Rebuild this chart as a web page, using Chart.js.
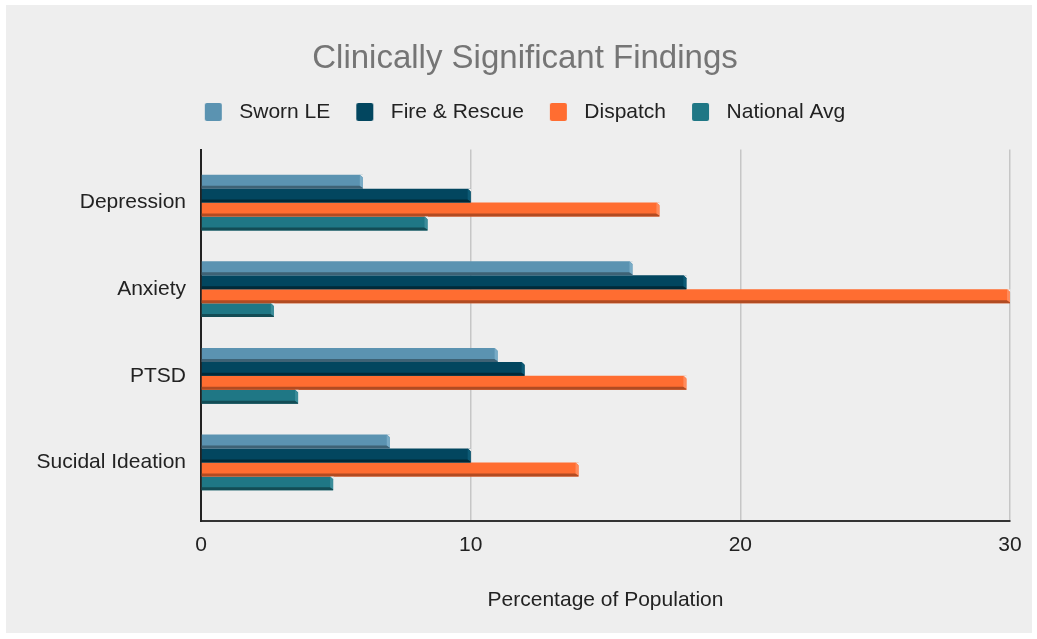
<!DOCTYPE html>
<html>
<head>
<meta charset="utf-8">
<script src="https://cdn.jsdelivr.net/npm/chart.js@4/dist/chart.umd.min.js"></script>
<style>
  html, body { margin: 0; padding: 0; background: #ffffff; }
  canvas { display: block; }
</style>
</head>
<body>
<canvas id="chart" width="1037" height="639"></canvas>
<script>
// Survey results: share of each group with clinically significant findings (%)
const categories = ['Depression', 'Anxiety', 'PTSD', 'Sucidal Ideation'];
const seriesNames = ['Sworn LE', 'Fire & Rescue', 'Dispatch', 'National Avg'];
const swornLE     = [6, 16, 11, 7];
const fireRescue  = [10, 18, 12, 10];
const dispatch    = [17, 30, 18, 14];
const nationalAvg = [8.4, 2.7, 3.6, 4.9];
const xTicks = [0, 10, 20, 30];

// face / bottom edge / end cap shades for each series
const faceColors = ['#5b93b1', '#02465f', '#ff6d31', '#1f7785'];
const edgeColors = ['#3e6275', '#012a39', '#b14b22', '#134c55'];
const capColors  = ['#78abc6', '#0c5a75', '#ff8b5b', '#3b8c99'];

const BG = '#eeeeee';
const FONT = "'Liberation Sans', Arial, sans-serif";
const TEXT_SIZE = 21;

// legend swatch: square drawn in the left part of a wider image so the text sits further right
function makeSwatch(color) {
  const c = document.createElement('canvas');
  c.width = 30; c.height = 18;
  const g = c.getContext('2d');
  g.fillStyle = color;
  g.beginPath();
  g.roundRect(3, 0, 17, 18, 2);
  g.fill();
  return c;
}
const swatches = faceColors.map(makeSwatch);

// white frame around the grey chart panel
const framePlugin = {
  id: 'frame',
  beforeDraw(chart) {
    const ctx = chart.ctx;
    ctx.save();
    ctx.fillStyle = '#ffffff';
    ctx.fillRect(0, 0, chart.width, chart.height);
    ctx.fillStyle = BG;
    ctx.fillRect(6, 5, chart.width - 11, chart.height - 11);
    ctx.restore();
  }
};

// shaded bottom edge and bevelled end cap on every bar
const bevelPlugin = {
  id: 'bevel',
  afterDatasetsDraw(chart) {
    const ctx = chart.ctx;
    ctx.save();
    chart.data.datasets.forEach((ds, di) => {
      const meta = chart.getDatasetMeta(di);
      if (meta.hidden) return;
      meta.data.forEach(bar => {
        const p = bar.getProps(['x', 'y', 'base', 'height'], true);
        const top = p.y - p.height / 2;
        const bottom = p.y + p.height / 2;
        const end = p.x;
        const d = 3;
        // bottom edge
        ctx.fillStyle = edgeColors[di];
        ctx.beginPath();
        ctx.moveTo(p.base, bottom - d);
        ctx.lineTo(end - d, bottom - d);
        ctx.lineTo(end, bottom - 1);
        ctx.lineTo(end, bottom);
        ctx.lineTo(p.base, bottom);
        ctx.closePath();
        ctx.fill();
        // cut the top-right corner
        ctx.fillStyle = BG;
        ctx.beginPath();
        ctx.moveTo(end - d, top);
        ctx.lineTo(end + 0.5, top);
        ctx.lineTo(end + 0.5, top + d);
        ctx.closePath();
        ctx.fill();
        // end cap
        ctx.fillStyle = capColors[di];
        ctx.beginPath();
        ctx.moveTo(end - d, top);
        ctx.lineTo(end, top + d);
        ctx.lineTo(end, bottom - 1);
        ctx.lineTo(end - d, bottom - d);
        ctx.closePath();
        ctx.fill();
      });
    });
    ctx.restore();
  }
};

const seriesValues = [swornLE, fireRescue, dispatch, nationalAvg];

new Chart(document.getElementById('chart'), {
  type: 'bar',
  data: {
    datasets: seriesValues.map((vals, i) => ({
      label: seriesNames[i],
      data: vals.map((v, k) => ({ x: v, y: k })),
      xAxisID: 'x',
      yAxisID: 'y',
      backgroundColor: faceColors[i],
      borderWidth: 0,
      categoryPercentage: 0.644,
      barPercentage: 1
    }))
  },
  plugins: [framePlugin, bevelPlugin],
  options: {
    indexAxis: 'y',
    responsive: false,
    animation: false,
    devicePixelRatio: 1,
    layout: { padding: { left: 30, right: 17, top: 0, bottom: 0 } },
    plugins: {
      tooltip: { enabled: false },
      title: {
        display: true,
        text: 'Clinically Significant Findings',
        color: '#757575',
        font: { family: FONT, size: 33, weight: 'normal', lineHeight: 1.2 },
        padding: { top: 39.2, bottom: -3.3 }
      },
      legend: {
        display: true,
        position: 'top',
        labels: {
          usePointStyle: true,
          pointStyleWidth: 24,
          padding: 26,
          color: '#222222',
          font: { family: FONT, size: TEXT_SIZE },
          generateLabels: chart => chart.data.datasets.map((ds, i) => ({
            text: ds.label,
            fillStyle: faceColors[i],
            strokeStyle: faceColors[i],
            lineWidth: 0,
            pointStyle: swatches[i],
            hidden: !chart.isDatasetVisible(i),
            datasetIndex: i,
            fontColor: '#222222'
          }))
        }
      }
    },
    scales: {
      x: {
        type: 'linear',
        position: 'bottom',
        min: xTicks[0],
        max: xTicks[xTicks.length - 1],
        afterBuildTicks: s => { s.ticks = xTicks.map(v => ({ value: v })); },
        afterFit: s => { s.height = 118; },
        grid: { color: '#c6c6c6', lineWidth: 1.5, drawTicks: false },
        border: { display: true, color: '#333333', width: 2 },
        ticks: { color: '#222222', font: { family: FONT, size: TEXT_SIZE }, padding: 12 },
        title: {
          display: true,
          text: 'Percentage of Population',
          color: '#222222',
          font: { family: FONT, size: TEXT_SIZE },
          padding: { top: 0, bottom: 26.4 }
        }
      },
      y: {
        type: 'linear',
        position: 'left',
        reverse: true,
        offset: false,
        min: -0.613,
        max: 3.676,
        afterBuildTicks: s => { s.ticks = categories.map((c, i) => ({ value: i })); },
        afterFit: s => { s.width = 171; },
        grid: { display: false, drawTicks: false },
        border: { display: true, color: '#222222', width: 2 },
        ticks: {
          color: '#222222',
          font: { family: FONT, size: TEXT_SIZE },
          padding: 15,
          callback: v => categories[v]
        }
      },
      // empty band between the legend and the plot
      gap: {
        type: 'linear',
        axis: 'x',
        position: 'top',
        display: true,
        grid: { display: false, drawTicks: false },
        border: { display: false },
        ticks: { display: false },
        afterFit: s => { s.height = 17; }
      },
      // empty margin right of the plot
      gapRight: {
        type: 'linear',
        axis: 'y',
        position: 'right',
        display: true,
        grid: { display: false, drawTicks: false },
        border: { display: false },
        ticks: { display: false },
        afterFit: s => { s.width = 10; }
      }
    }
  }
});
</script>
</body>
</html>
